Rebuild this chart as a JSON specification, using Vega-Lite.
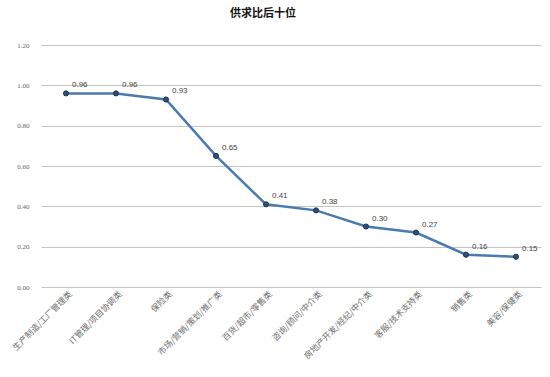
{
  "$schema": "https://vega.github.io/schema/vega-lite/v6.json",
  "autosize": {"type": "none"},
  "width": 500,
  "height": 242,
  "padding": {"left": 41, "top": 45, "right": 9, "bottom": 90},
  "background": "white",
  "title": {"text": "供求比后十位", "font": "Noto Sans CJK SC", "fontSize": 11, "fontWeight": "bold", "color": "#111111", "offset": 22, "dx": -28},
  "data": {"values": [
    {"cat": "生产制造/工厂管理类", "v": 0.96},
    {"cat": "IT管理/项目协调类", "v": 0.96},
    {"cat": "保险类", "v": 0.93},
    {"cat": "市场/营销/策划/推广类", "v": 0.65},
    {"cat": "百货/超市/零售类", "v": 0.41},
    {"cat": "咨询/顾问/中介类", "v": 0.38},
    {"cat": "房地产开发/经纪/中介类", "v": 0.30},
    {"cat": "客服/技术支持类", "v": 0.27},
    {"cat": "销售类", "v": 0.16},
    {"cat": "美容/保健类", "v": 0.15}
  ]},
  "encoding": {
    "x": {"field": "cat", "type": "nominal", "sort": null, "scale": {"paddingInner": 0, "paddingOuter": 0},
      "axis": {"title": null, "labelAngle": -45, "labelAlign": "right", "labelBaseline": "middle", "labelFont": "Noto Sans CJK SC", "labelFontSize": 8.5, "labelColor": "#6e6e6e", "ticks": false, "domain": false, "labelPadding": 5, "labelOffset": 4}},
    "y": {"field": "v", "type": "quantitative", "scale": {"domain": [0, 1.2]},
      "axis": {"title": null, "values": [0, 0.2, 0.4, 0.6, 0.8, 1.0, 1.2], "format": ".2f", "labelFont": "Liberation Serif", "labelFontSize": 7, "labelColor": "#666666", "ticks": false, "domain": false, "grid": true, "gridColor": "#c4c4c4", "gridWidth": 1, "labelPadding": 12}}
  },
  "layer": [
    {"mark": {"type": "line", "color": "#4a7ab0", "strokeWidth": 2.5}},
    {"mark": {"type": "point", "filled": true, "size": 26, "color": "#2f4f75", "stroke": "#1f3550", "strokeWidth": 1, "opacity": 1}},
    {"mark": {"type": "text", "align": "left", "baseline": "bottom", "dx": 6, "dy": -4, "font": "Liberation Sans", "fontSize": 8, "color": "#444444"},
      "encoding": {"text": {"field": "v", "type": "quantitative", "format": ".2f"}}}
  ],
  "config": {"view": {"stroke": null}}
}
